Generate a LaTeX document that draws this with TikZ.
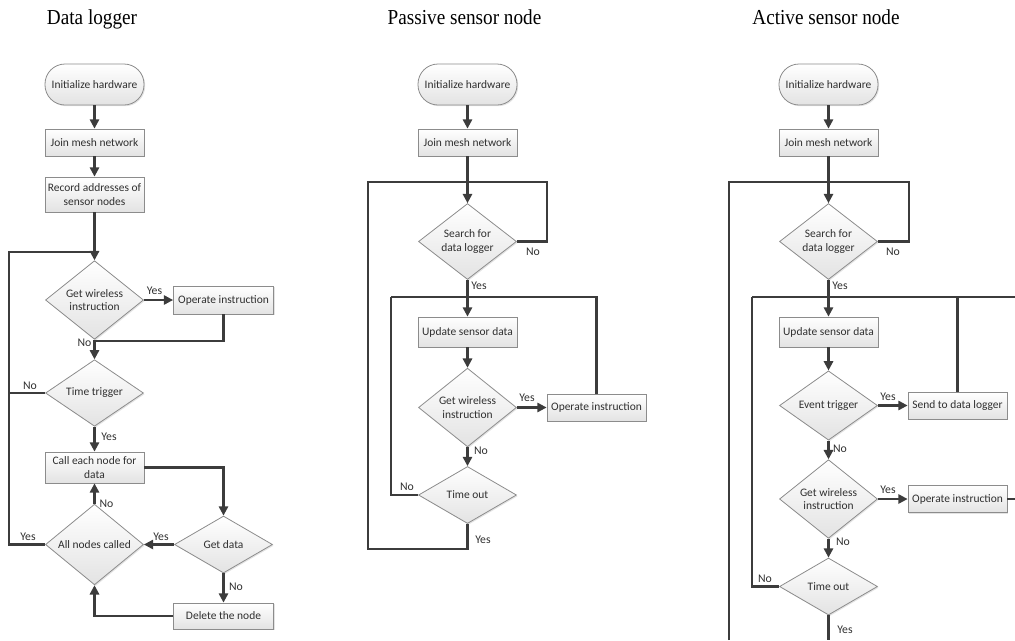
\documentclass[tikz,border=0pt]{standalone}
\usepackage{fontspec}
\setmainfont{Carlito}
\newfontfamily\titlefont{Liberation Serif}
\usetikzlibrary{arrows.meta,shapes.geometric,shadows}

\definecolor{linec}{HTML}{3C3C3C}
\definecolor{boxline}{HTML}{8C8C8C}
\definecolor{txt}{HTML}{303030}

\newcommand{\headline}[1]{\scalebox{0.9}[1]{\titlefont\fontsize{16}{18}\selectfont #1}}

\tikzset{
  base/.style={draw=boxline, line width=0.6pt, top color=white, bottom color=black!11,
    text=txt, font=\fontsize{8.6}{10.2}\selectfont, align=center, inner sep=1pt,
    drop shadow={shadow xshift=0.9pt, shadow yshift=-0.9pt, opacity=0.22}},
  proc/.style={base, rectangle, minimum width=74.25pt},
  term/.style={base, rectangle, rounded corners=15pt, minimum width=74.25pt, minimum height=30.75pt},
  deci/.style={base, diamond, minimum width=73.5pt, minimum height=42.75pt, inner sep=0pt},
  flow/.style={draw=linec, line width=1.6pt},
  arr/.style={flow, -{Triangle[length=7pt,width=7pt]}},
  lbl/.style={text=txt, font=\fontsize{8.8}{10}\selectfont, inner sep=0pt},
  title/.style={text=black, anchor=base, inner sep=0pt},
}

\begin{document}
\begin{tikzpicture}[x=0.75pt, y=-0.75pt]
\useasboundingbox (0,0) rectangle (1015,640);

% ---------- titles ----------
\node[title] (t1) at (92,24) {\headline{Data logger}};
\node[title] (t2) at (464.5,24) {\headline{Passive sensor node}};
\node[title] (t3) at (826,24) {\headline{Active sensor node}};

% ========== Data logger ==========
\node[term] (dlinit) at (94.5,84.5) {Initialize hardware};
\node[proc, minimum height=20.25pt] (dljoin) at (94.5,142.5) {Join mesh network};
\node[proc, minimum height=26.25pt] (dlrec) at (94.5,194.5) {Record addresses of\\sensor nodes};
\node[deci] (dlgw) at (94.5,300) {Get wireless\\instruction};
\node[proc, minimum width=75pt, minimum height=21pt] (dlop) at (223.5,300) {Operate instruction};
\node[deci] (dltt) at (94.5,393) {Time trigger};
\node[proc, minimum height=23.25pt] (dlcall) at (94.5,467.5) {Call each node for\\data};
\node[deci] (dlgd) at (223.5,544.5) {Get data};
\node[deci] (dlall) at (94.5,544.5) {All nodes called};
\node[proc, minimum width=75pt, minimum height=19.5pt] (dldel) at (223.5,616) {Delete the node};

\coordinate (dJ1) at (94.5,252);
\coordinate (dL1) at (9,252);
\coordinate (dJ2) at (94.5,341);

\draw[arr] (dlinit) -- (dljoin);
\draw[arr] (dljoin) -- (dlrec);
\draw[arr] (dlrec) -- (dlgw);
\draw[arr] (dlgw) -- (dlop);
\draw[flow] (dlop.south) |- (dJ2);
\draw[arr] (dlgw) -- (dltt);
\draw[flow] (dlall.west) -| (dL1) -- (dJ1);
\draw[flow] (dltt.west) -- (dltt.west -| dL1);
\draw[arr] (dltt) -- (dlcall);
\draw[arr] (dlcall.east) -| (dlgd.north);
\draw[arr] (dlgd) -- (dlall);
\draw[arr] (dlall) -- (dlcall);
\draw[arr] (dlgd) -- (dldel);
\draw[arr] (dldel.west) -| (dlall.south);

\node[lbl] (dly1) at (154.5,291) {Yes};
\node[lbl] (dln1) at (84.5,343) {No};
\node[lbl] (dln2) at (30,386) {No};
\node[lbl] (dly2) at (109,437) {Yes};
\node[lbl] (dln3) at (106.5,504) {No};
\node[lbl] (dly3) at (28,537) {Yes};
\node[lbl] (dly4) at (161,537) {Yes};
\node[lbl] (dln4) at (236,587) {No};

% ========== Passive sensor node ==========
\node[term] (pinit) at (467.5,84.5) {Initialize hardware};
\node[proc, minimum height=20.25pt] (pjoin) at (467.5,142.5) {Join mesh network};
\node[deci] (psearch) at (467.5,241.5) {Search for\\data logger};
\node[proc, minimum height=22.5pt] (pupd) at (467.5,332) {Update sensor data};
\node[deci] (pgw) at (467.5,407.5) {Get wireless\\instruction};
\node[proc, minimum height=20.25pt] (pop) at (596.5,407.5) {Operate instruction};
\node[deci] (pto) at (467.5,495) {Time out};

\coordinate (pT) at (467.5,182);
\coordinate (pTR) at (547,182);
\coordinate (pTL) at (368,182);
\coordinate (pM) at (467.5,297);
\coordinate (pML) at (391,297);
\coordinate (pB) at (368,549);

\draw[arr] (pinit) -- (pjoin);
\draw[arr] (pjoin) -- (psearch);
\draw[flow] (psearch.east) -| (pTR) -- (pT);
\draw[arr] (psearch) -- (pupd);
\draw[arr] (pupd) -- (pgw);
\draw[arr] (pgw) -- (pop);
\draw[flow] (pop.north) -- (pop.north |- pM) -- (pML);
\draw[arr] (pgw) -- (pto);
\draw[flow] (pto.west) -| (pML);
\draw[flow] (pto.south) |- (pB) -- (pTL) -- (pT);

\node[lbl] (pn1) at (533,252) {No};
\node[lbl] (py1) at (479,286) {Yes};
\node[lbl] (py2) at (527,398) {Yes};
\node[lbl] (pn2) at (481,451) {No};
\node[lbl] (pn3) at (407,487) {No};
\node[lbl] (py3) at (483,540) {Yes};

% ========== Active sensor node ==========
\node[term] (ainit) at (828.5,84.5) {Initialize hardware};
\node[proc, minimum height=20.25pt] (ajoin) at (828.5,142.5) {Join mesh network};
\node[deci] (asearch) at (828.5,241.5) {Search for\\data logger};
\node[proc, minimum height=22.5pt] (aupd) at (828.5,332) {Update sensor data};
\node[deci] (aev) at (828.5,405.5) {Event trigger};
\node[proc, minimum height=20.25pt] (asend) at (957.5,405.5) {Send to data logger};
\node[deci] (agw) at (828.5,499) {Get wireless\\instruction};
\node[proc, minimum height=20.25pt] (aop) at (957.5,499) {Operate instruction};
\node[deci] (ato) at (828.5,586.5) {Time out};

\coordinate (aT) at (828.5,182);
\coordinate (aTR) at (909,182);
\coordinate (aTL) at (729,182);
\coordinate (aML) at (752,297);
\coordinate (aMR) at (1015,297);
\coordinate (aOpR) at (1015,499);
\coordinate (aBot) at (828.5,640);
\coordinate (aLBot) at (729,640);

\draw[arr] (ainit) -- (ajoin);
\draw[arr] (ajoin) -- (asearch);
\draw[flow] (asearch.east) -| (aTR) -- (aT);
\draw[arr] (asearch) -- (aupd);
\draw[flow] (aML) -- (aMR);
\draw[arr] (aupd) -- (aev);
\draw[arr] (aev) -- (asend);
\draw[flow] (asend.north) -- (asend.north |- aMR);
\draw[arr] (aev) -- (agw);
\draw[arr] (agw) -- (aop);
\draw[flow] (aop.east) -- (aOpR);
\draw[arr] (agw) -- (ato);
\draw[flow] (ato.west) -| (aML);
\draw[flow] (ato.south) -- (aBot);
\draw[flow] (aLBot) -- (aTL) -- (aT);

\node[lbl] (an1) at (893,252) {No};
\node[lbl] (ay1) at (840,286) {Yes};
\node[lbl] (ay2) at (888,397) {Yes};
\node[lbl] (an2) at (840,449) {No};
\node[lbl] (ay3) at (888,490) {Yes};
\node[lbl] (an3) at (843,542) {No};
\node[lbl] (an4) at (765,579) {No};
\node[lbl] (ay4) at (845,630) {Yes};
\end{tikzpicture}
\end{document}
